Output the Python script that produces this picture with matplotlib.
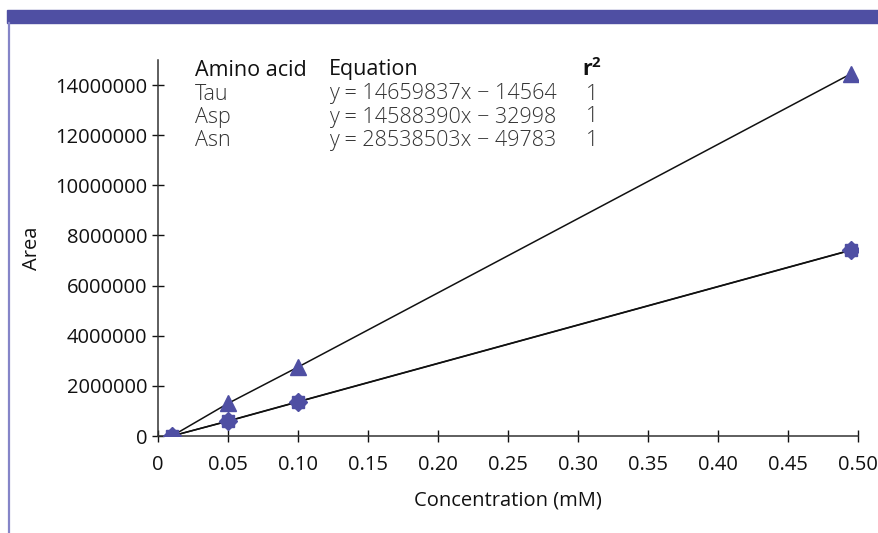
import matplotlib.pyplot as plt
from matplotlib.patches import Rectangle
from matplotlib.lines import Line2D

# dati
conc = [0.01, 0.05, 0.10, 0.495]
area_tau = [0, 600000, 1370000, 7420000]
area_asp = [0, 590000, 1360000, 7410000]
area_asn = [0, 1300000, 2750000, 14450000]

table_header = ["Amino acid", "Equation", "r$^\\mathbf{2}$"]
table_names = ["Tau", "Asp", "Asn"]
table_eqs = ["y = 14659837x \u2212 14564",
             "y = 14588390x \u2212 32998",
             "y = 28538503x \u2212 49783"]
table_r2 = ["1", "1", "1"]

x_ticks = [0, 0.05, 0.10, 0.15, 0.20, 0.25, 0.30, 0.35, 0.40, 0.45, 0.50]
x_labels = ["0"] + [f"{t:.2f}" for t in x_ticks[1:]]
y_ticks = [0, 2000000, 4000000, 6000000, 8000000, 10000000, 12000000, 14000000]

PURPLE = "#4f4fa3"
FS = 14.5
FS_TAB = 15.5

plt.rcParams['font.family'] = ['Open Sans', 'DejaVu Sans']
plt.rcParams['mathtext.fontset'] = 'custom'
plt.rcParams['mathtext.rm'] = 'Open Sans'
plt.rcParams['mathtext.bf'] = 'Open Sans:bold'

fig = plt.figure(figsize=(8.79, 5.33), dpi=100)
ax = fig.add_axes([158 / 879, 1 - 436 / 533, 700 / 879, 376 / 533])

for y in (area_tau, area_asp, area_asn):
    ax.plot(conc, y, color="#111111", linewidth=1.1, zorder=2)
ax.plot(conc, area_tau, linestyle="none", marker="s", markersize=9, color=PURPLE, zorder=3)
ax.plot(conc, area_asp, linestyle="none", marker="D", markersize=9, color=PURPLE, zorder=3)
ax.plot(conc, area_asn, linestyle="none", marker="^", markersize=12, color=PURPLE, zorder=4)

ax.set_xlim(0, 0.5)
ax.set_ylim(0, 15000000)
ax.set_xticks(x_ticks)
ax.set_xticklabels(x_labels)
ax.set_yticks(y_ticks)
ax.set_yticklabels([str(v) for v in y_ticks])
ax.tick_params(direction="inout", length=9, width=1, labelsize=FS, colors="#111111", pad=3)
ax.tick_params(axis="x", pad=9.5)
for s in ("top", "right"):
    ax.spines[s].set_visible(False)
for s in ("left", "bottom"):
    ax.spines[s].set_color("#333333")
    ax.spines[s].set_linewidth(1.1)

ax.set_xlabel("Concentration (mM)", fontsize=FS, color="#111111", labelpad=11)
ax.set_ylabel("Area", fontsize=FS, color="#111111", labelpad=10)

# tabella equazioni
col_x = [195, 329, 582]
row_y = [70, 94, 117, 140]
for cx, h in zip(col_x, table_header):
    fig.text(cx / 879, 1 - row_y[0] / 533, h, fontsize=FS_TAB, color="#111111", va="center",
             fontweight="bold" if h.startswith("r") else "normal")
for i in range(3):
    yy = 1 - row_y[i + 1] / 533
    fig.text(col_x[0] / 879, yy, table_names[i], fontsize=FS_TAB, color="#333333", va="center", fontweight="light")
    fig.text(col_x[1] / 879, yy, table_eqs[i], fontsize=FS_TAB, color="#333333", va="center", fontweight="light")
    fig.text((col_x[2] + 4) / 879, yy, table_r2[i], fontsize=FS_TAB, color="#333333", va="center", fontweight="light")

# banda viola e bordo sinistro
fig.patches.append(Rectangle((7 / 879, 1 - 23 / 533), 1, 13 / 533, transform=fig.transFigure,
                             color=PURPLE, zorder=0))
fig.lines.append(Line2D([8.5 / 879, 8.5 / 879], [0, 1 - 23 / 533], transform=fig.transFigure,
                        color="#8585c8", linewidth=1.6))

fig.savefig("out.png", dpi=100)
